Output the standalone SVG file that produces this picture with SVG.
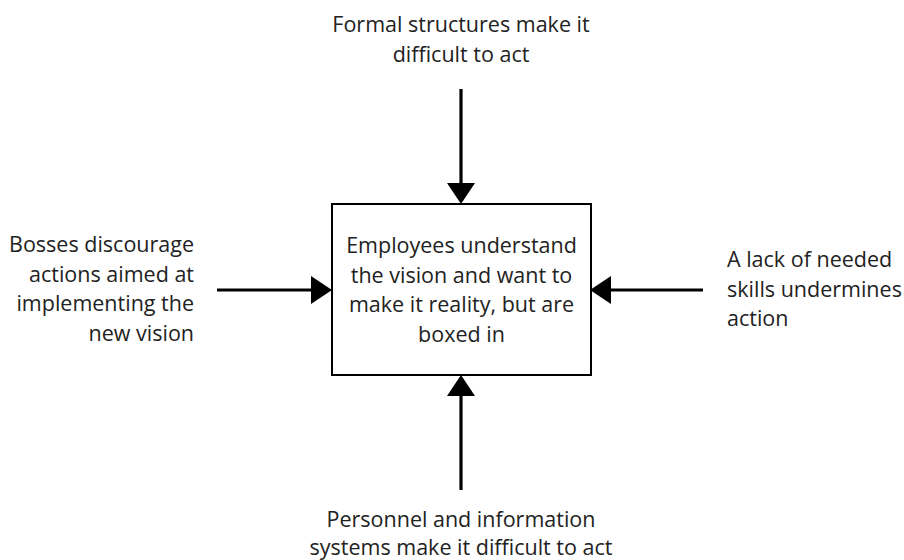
<svg xmlns="http://www.w3.org/2000/svg" width="904" height="560" viewBox="0 0 904 560">
<style>
text{font-family:"Open Sans","Noto Sans",sans-serif;font-size:21.5px;fill:#222}
.c{text-anchor:middle}
.r{text-anchor:end}
.l{text-anchor:start}
.box{fill:#fff;stroke:#000;stroke-width:2}
.arr{stroke:#000;stroke-width:3.2;fill:none}
.head{fill:#000}
</style>
<rect width="904" height="560" fill="#fff"/>
<g id="connectors">
<line class="arr" x1="461" y1="89" x2="461" y2="186"/>
<polygon class="head" points="447,183 475,183 461,204"/>
<line class="arr" x1="461" y1="490" x2="461" y2="392"/>
<polygon class="head" points="447,396 475,396 461,375"/>
<line class="arr" x1="217" y1="290" x2="314" y2="290"/>
<polygon class="head" points="311,276 311,304 332,290"/>
<line class="arr" x1="703" y1="290" x2="608" y2="290"/>
<polygon class="head" points="611,276 611,304 590,290"/>
</g>
<g id="center">
<rect class="box" x="332" y="204" width="259" height="171"/>
<text class="c" x="461.5" y="253">Employees understand</text>
<text class="c" x="461.5" y="282.5">the vision and want to</text>
<text class="c" x="461.5" y="312">make it reality, but are</text>
<text class="c" x="461.5" y="341.5">boxed in</text>
</g>
<g id="top">
<text class="c" x="461" y="32">Formal structures make it</text>
<text class="c" x="461" y="61.5">difficult to act</text>
</g>
<g id="left">
<text class="r" x="194" y="252">Bosses discourage</text>
<text class="r" x="194" y="281.5">actions aimed at</text>
<text class="r" x="194" y="311">implementing the</text>
<text class="r" x="194" y="340.5">new vision</text>
</g>
<g id="right">
<text class="l" x="727" y="267">A lack of needed</text>
<text class="l" x="727" y="296.5">skills undermines</text>
<text class="l" x="727" y="326">action</text>
</g>
<g id="bottom">
<text class="c" x="461" y="527">Personnel and information</text>
<text class="c" x="461" y="555">systems make it difficult to act</text>
</g>
</svg>
